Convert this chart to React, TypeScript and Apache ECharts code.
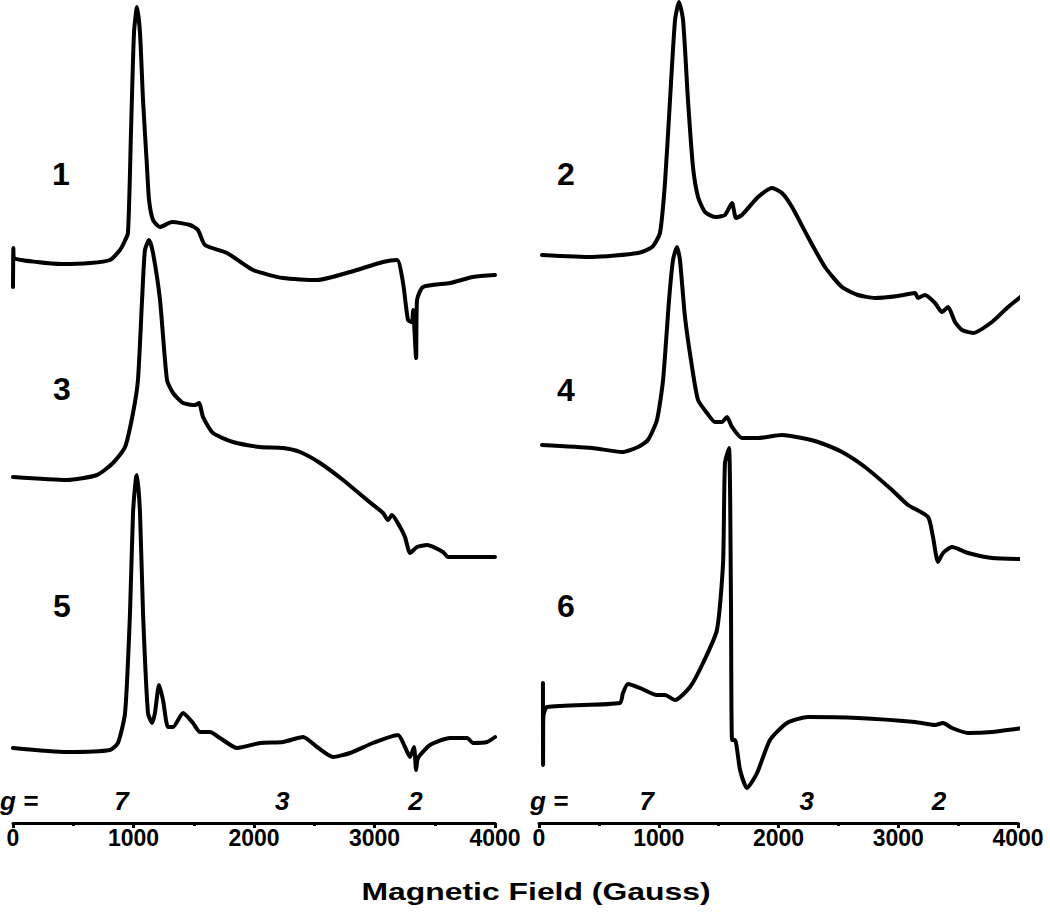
import React, { useEffect, useRef } from "react";
import * as echarts from "echarts";

// Field values (Gauss) and signal (arb. units, relative to each trace's baseline)
const field1 = [0, 3, 8, 200, 407, 640, 805, 888, 920, 954, 979, 1004, 1029, 1054, 1079, 1112, 1129, 1162, 1220, 1320, 1469, 1535, 1593, 1776, 1992, 2241, 2523, 2797, 3071, 3187, 3237, 3278, 3311, 3320, 3345, 3353, 3403, 3627, 3817, 4000];
const signal1 = [-29, 10, 0, -4, -6, -5, -2, 8, 15, 25, 125, 225, 251, 225, 158, 91, 58, 38, 31, 36, 33, 28, 13, 5, -12, -20, -22, -14, -4, -2, -25, -62, -64, -52, -100, -42, -29, -25, -19, -17];

const field3 = [0, 448, 697, 830, 930, 996, 1037, 1071, 1095, 1129, 1162, 1220, 1278, 1328, 1411, 1510, 1544, 1577, 1660, 1826, 2050, 2241, 2382, 2548, 2739, 2938, 3071, 3112, 3145, 3212, 3253, 3295, 3353, 3436, 3569, 3610, 4000];
const signal3 = [0, -3, 2, 14, 30, 64, 97, 177, 227, 237, 224, 177, 97, 84, 74, 72, 74, 60, 44, 35, 30, 29, 25, 14, -3, -23, -36, -43, -38, -50, -60, -76, -70, -68, -75, -80, -80];

const field5 = [0, 448, 805, 871, 930, 971, 996, 1021, 1029, 1054, 1079, 1120, 1154, 1178, 1212, 1245, 1286, 1328, 1411, 1494, 1552, 1635, 1718, 1859, 2050, 2241, 2407, 2523, 2656, 2797, 2988, 3195, 3253, 3295, 3328, 3345, 3361, 3461, 3627, 3768, 3818, 3934, 4000];
const signal5 = [0, -4, -2, 5, 35, 135, 235, 271, 273, 235, 135, 35, 25, 35, 63, 48, 21, 21, 35, 25, 16, 16, 10, 0, 5, 6, 11, 1, -9, -5, 5, 13, 1, -9, 1, -22, -10, 3, 10, 10, 5, 6, 11];

const field2 = [25, 443, 827, 944, 1010, 1052, 1094, 1136, 1169, 1203, 1244, 1286, 1328, 1386, 1470, 1553, 1612, 1645, 1695, 1829, 1946, 2029, 2113, 2246, 2388, 2530, 2664, 2806, 2998, 3140, 3165, 3223, 3307, 3365, 3416, 3474, 3532, 3624, 3783, 3917, 4042];
const signal2 = [0, -2, 2, 8, 22, 72, 155, 235, 253, 235, 155, 88, 58, 43, 38, 40, 52, 37, 40, 58, 67, 62, 48, 18, -12, -32, -40, -43, -41, -38, -43, -40, -48, -57, -52, -67, -75, -78, -67, -52, -40];

const field4 = [25, 443, 693, 827, 910, 985, 1036, 1086, 1119, 1152, 1177, 1219, 1278, 1328, 1403, 1470, 1528, 1570, 1612, 1695, 1829, 2029, 2196, 2330, 2530, 2722, 2948, 3082, 3249, 3290, 3332, 3374, 3449, 3583, 3783, 4042];
const signal4 = [0, -3, -7, -2, 5, 25, 65, 145, 185, 198, 185, 128, 78, 45, 32, 23, 23, 28, 18, 7, 7, 10, 7, 3, -7, -22, -45, -60, -72, -92, -117, -108, -102, -108, -113, -114];

const field6 = [33, 34, 36, 67, 676, 701, 743, 843, 985, 1052, 1136, 1261, 1370, 1486, 1537, 1553, 1587, 1603, 1612, 1637, 1679, 1737, 1821, 1929, 2071, 2246, 2664, 3140, 3307, 3374, 3449, 3583, 3783, 4042];
const signal6 = [24, -58, -10, 0, 4, 14, 23, 19, 12, 12, 7, 20, 44, 77, 144, 244, 259, 107, -33, -33, -63, -81, -66, -33, -16, -10, -11, -15, -18, -16, -21, -26, -25, -21];

// Vertical stacking offsets of each trace (arb. units)
const traceNames = ["1", "2", "3", "4", "5", "6"];
const traceOffsets = [565, 568, 346, 378, 75, 116];
const tracePanels = [0, 1, 0, 1, 0, 1];
const traceFields = [field1, field2, field3, field4, field5, field6];
const traceSignals = [signal1, signal2, signal3, signal4, signal5, signal6];

// g-value markers
const gLabels = ["7", "3", "2"];
const gFields = [900, 2235, 3340];

const xTicks = { min: 0, max: 4000, interval: 1000 };
const FONT = "'Liberation Sans', Arial, Helvetica, sans-serif";

export default function App() {
  const ref = useRef<HTMLDivElement>(null);

  useEffect(() => {
    if (!ref.current) return;
    const chart = echarts.init(ref.current, null, { renderer: "svg" });

    const grids = [
      { left: 13, top: 0, width: 482, height: 823 },
      { left: 539, top: 0, width: 479, height: 823 },
    ];

    const xAxes = grids.map((_, i) => ({
      type: "value",
      gridIndex: i,
      min: xTicks.min,
      max: xTicks.max,
      interval: xTicks.interval,
      axisLine: { show: true, onZero: false, lineStyle: { color: "#000", width: 3 } },
      axisTick: { show: true, length: 5, lineStyle: { color: "#000", width: 3 } },
      minorTick: { show: true, splitNumber: 2, length: 3, lineStyle: { color: "#000", width: 3 } },
      splitLine: { show: false },
      axisLabel: {
        show: true,
        color: "#000",
        fontFamily: FONT,
        fontWeight: "bold",
        fontSize: 23,
        margin: 3,
        showMinLabel: true,
        showMaxLabel: true,
        hideOverlap: false,
        formatter: (v: number) => String(v),
      },
    }));

    const yAxes = grids.map((_, i) => ({
      type: "value",
      gridIndex: i,
      min: 0,
      max: 823,
      show: false,
    }));

    const series = traceNames.map((name, k) => ({
      name,
      type: "line",
      xAxisIndex: tracePanels[k],
      yAxisIndex: tracePanels[k],
      showSymbol: false,
      clip: false,
      silent: true,
      smooth: 0.2,
      lineStyle: { color: "#000", width: 4, join: "round", cap: "round" },
      data: traceFields[k].map((f, j) => [f, traceOffsets[k] + traceSignals[k][j]]),
    }));

    chart.setOption({
      animation: false,
      backgroundColor: "#fff",
      grid: grids,
      xAxis: xAxes,
      yAxis: yAxes,
      series,
    });

    // annotation texts
    const graphic: any[] = [];
    const traceLabelPos = [
      [61, 174],
      [566, 174],
      [62, 389],
      [566, 390],
      [62, 606],
      [566, 606],
    ];
    traceNames.forEach((n, k) => {
      graphic.push({
        type: "text",
        x: traceLabelPos[k][0],
        y: traceLabelPos[k][1],
        style: {
          text: n,
          fill: "#000",
          font: `bold 32px ${FONT}`,
          textAlign: "center",
          textVerticalAlign: "middle",
        },
      });
    });
    [0, 1].forEach((p) => {
      const gx = p === 0 ? 0 : 530;
      graphic.push({
        type: "text",
        x: gx,
        y: 801,
        style: {
          text: "g =",
          fill: "#000",
          font: `italic bold 26px ${FONT}`,
          textAlign: "left",
          textVerticalAlign: "middle",
        },
      });
      gLabels.forEach((g, i) => {
        const pt = chart.convertToPixel({ xAxisIndex: p, yAxisIndex: p } as any, [gFields[i], 0]) as number[];
        graphic.push({
          type: "text",
          x: pt[0],
          y: 801,
          style: {
            text: g,
            fill: "#000",
            font: `italic bold 26px ${FONT}`,
            textAlign: "center",
            textVerticalAlign: "middle",
          },
        });
      });
    });
    graphic.push({
      type: "text",
      x: 536,
      y: 892,
      scaleX: 1.33,
      style: {
        text: "Magnetic Field (Gauss)",
        fill: "#000",
        font: `bold 24px ${FONT}`,
        textAlign: "center",
        textVerticalAlign: "middle",
      },
    });

    chart.setOption({ graphic });

    return () => chart.dispose();
  }, []);

  return (
    <div
      ref={ref}
      style={{ position: "fixed", left: 0, top: 0, width: 1050, height: 914, background: "#fff" }}
    />
  );
}
